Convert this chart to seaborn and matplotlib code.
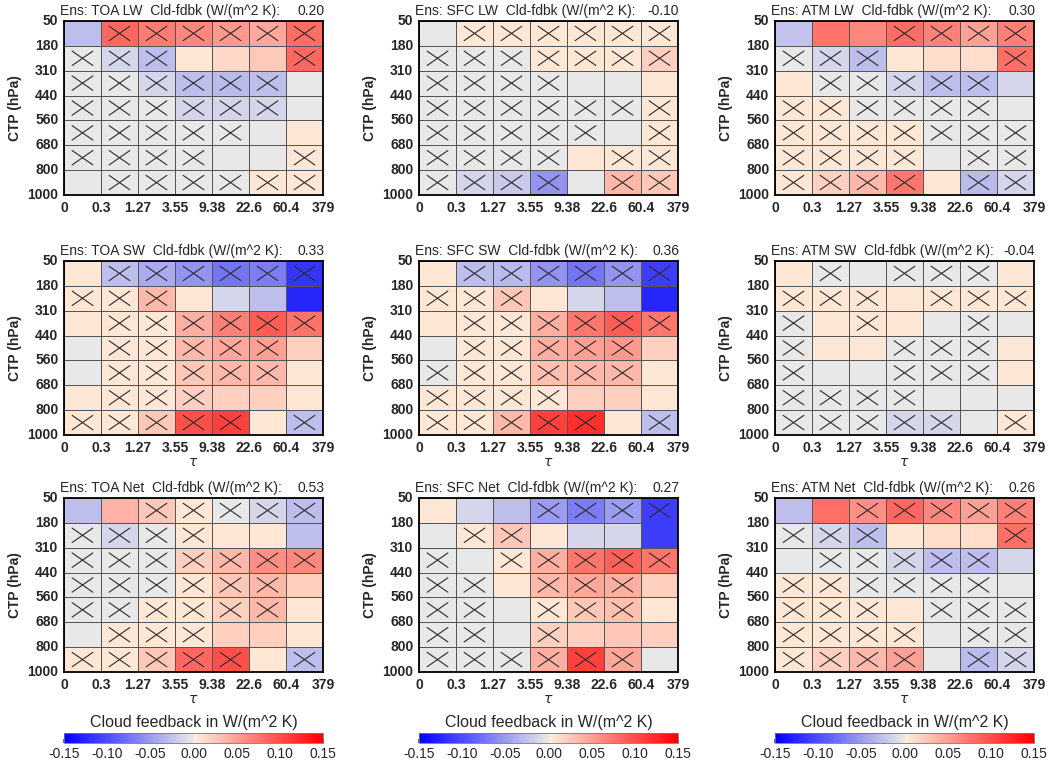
import numpy as np
import matplotlib
matplotlib.use("Agg")
import matplotlib.pyplot as plt
from matplotlib.colors import ListedColormap, Normalize
from matplotlib.cm import ScalarMappable
import seaborn as sns

# Bin edges for the ISCCP-style joint histogram
tau_edges = ["0", "0.3", "1.27", "3.55", "9.38", "22.6", "60.4", "379"]
ctp_edges = ["50", "180", "310", "440", "560", "680", "800", "1000"]

titles = ["TOA LW", "SFC LW", "ATM LW",
          "TOA SW", "SFC SW", "ATM SW",
          "TOA Net", "SFC Net", "ATM Net"]
totals = [0.20, -0.10, 0.30, 0.33, 0.36, -0.04, 0.53, 0.27, 0.26]

# Cloud feedback per bin, rows = CTP (top to bottom), cols = tau
toa_lw = [
    [-0.027, 0.085, 0.072, 0.065, 0.055, 0.045, 0.082],
    [-0.001, -0.012, -0.027, 0.005, 0.015, 0.024, 0.085],
    [-0.001, -0.001, -0.012, -0.028, -0.030, -0.028, -0.001],
    [-0.001, -0.001, -0.001, -0.013, -0.013, -0.013, -0.001],
    [-0.001, -0.001, -0.001, -0.001, -0.001, -0.001, 0.005],
    [-0.001, -0.001, -0.001, -0.001, -0.001, -0.001, 0.005],
    [-0.001, -0.001, -0.001, -0.001, -0.001, 0.005, 0.005],
]
sfc_lw = [
    [-0.001, 0.005, 0.005, 0.005, 0.005, 0.005, 0.005],
    [-0.001, -0.001, -0.001, 0.005, 0.005, 0.005, 0.020],
    [-0.001, -0.001, -0.001, -0.001, -0.001, -0.001, 0.005],
    [-0.001, -0.001, -0.001, -0.001, -0.001, -0.001, 0.005],
    [-0.001, -0.001, -0.001, -0.001, -0.001, -0.001, 0.005],
    [-0.001, -0.001, -0.001, -0.001, 0.005, 0.005, 0.005],
    [-0.001, -0.013, -0.020, -0.055, -0.001, 0.035, 0.025],
]
atm_lw = [
    [-0.025, 0.078, 0.065, 0.082, 0.068, 0.050, 0.070],
    [-0.001, -0.012, -0.027, 0.005, 0.012, 0.012, 0.080],
    [0.005, -0.001, -0.001, -0.012, -0.028, -0.028, -0.012],
    [0.005, 0.005, -0.001, -0.001, -0.001, -0.001, -0.001],
    [0.005, 0.005, 0.005, 0.005, -0.001, -0.001, -0.001],
    [0.005, 0.005, 0.005, 0.005, -0.001, -0.001, -0.001],
    [0.005, 0.020, 0.035, 0.075, 0.005, -0.030, -0.014],
]
toa_sw = [
    [0.005, -0.027, -0.040, -0.055, -0.075, -0.070, -0.115],
    [0.005, 0.005, 0.035, 0.005, -0.012, -0.027, -0.125],
    [0.005, 0.005, 0.005, 0.040, 0.070, 0.092, 0.078],
    [-0.001, 0.005, 0.005, 0.035, 0.045, 0.050, 0.020],
    [-0.001, 0.005, 0.005, 0.025, 0.035, 0.035, 0.005],
    [0.005, 0.005, 0.005, 0.020, 0.020, 0.020, 0.005],
    [0.005, 0.005, 0.025, 0.100, 0.110, 0.005, -0.027],
]
sfc_sw = [
    [0.005, -0.027, -0.030, -0.055, -0.075, -0.055, -0.110],
    [0.005, 0.005, 0.025, 0.005, -0.012, -0.027, -0.125],
    [0.005, 0.005, 0.005, 0.040, 0.075, 0.092, 0.075],
    [-0.001, 0.005, 0.005, 0.040, 0.050, 0.055, 0.020],
    [-0.001, 0.005, 0.005, 0.030, 0.035, 0.035, 0.005],
    [0.005, 0.005, 0.005, 0.005, 0.020, 0.020, 0.005],
    [0.005, 0.005, 0.035, 0.110, 0.120, 0.005, -0.027],
]
atm_sw = [
    [0.005, -0.001, -0.001, -0.001, -0.001, -0.001, 0.005],
    [0.005, 0.005, 0.005, 0.005, 0.005, 0.005, 0.005],
    [-0.001, 0.005, 0.005, 0.005, -0.001, -0.001, -0.001],
    [-0.001, 0.005, 0.005, -0.001, -0.001, -0.001, 0.005],
    [-0.001, -0.001, -0.001, -0.001, -0.001, -0.001, 0.005],
    [-0.001, -0.001, -0.001, -0.001, -0.001, -0.001, -0.001],
    [-0.001, -0.001, -0.001, -0.012, -0.012, -0.001, 0.005],
]
toa_net = [
    [-0.027, 0.038, 0.025, 0.005, -0.001, -0.012, -0.027],
    [-0.001, -0.012, -0.001, 0.005, 0.005, 0.005, -0.027],
    [-0.001, -0.001, -0.001, 0.020, 0.035, 0.060, 0.065],
    [-0.001, -0.001, -0.001, 0.005, 0.025, 0.035, 0.020],
    [-0.001, -0.001, 0.005, 0.005, 0.020, 0.035, 0.005],
    [-0.001, 0.005, 0.005, 0.005, 0.020, 0.020, 0.005],
    [0.005, 0.005, 0.025, 0.085, 0.100, 0.005, -0.027],
]
sfc_net = [
    [0.005, -0.012, -0.027, -0.050, -0.070, -0.050, -0.110],
    [-0.001, 0.005, 0.025, 0.005, -0.012, -0.012, -0.110],
    [-0.001, -0.001, 0.005, 0.040, 0.075, 0.090, 0.075],
    [-0.001, -0.001, 0.005, 0.035, 0.045, 0.040, 0.020],
    [-0.001, -0.001, -0.001, 0.005, 0.025, 0.030, 0.005],
    [-0.001, -0.001, -0.001, 0.020, 0.020, 0.025, 0.020],
    [-0.001, -0.001, -0.001, 0.040, 0.110, 0.045, -0.001],
]
atm_net = [
    [-0.027, 0.080, 0.060, 0.085, 0.065, 0.050, 0.070],
    [-0.001, -0.012, -0.027, 0.005, 0.012, 0.012, 0.080],
    [-0.001, -0.001, -0.001, -0.012, -0.028, -0.028, -0.012],
    [0.005, 0.005, -0.001, -0.001, -0.001, -0.001, -0.001],
    [0.005, 0.005, 0.005, 0.005, -0.001, -0.001, -0.001],
    [0.005, 0.005, 0.005, 0.005, -0.001, -0.001, -0.001],
    [0.005, 0.020, 0.035, 0.050, -0.001, -0.030, -0.014],
]

# 1 = bin crossed out (not robust across the ensemble)
toa_lw_x = [[0,1,1,1,1,1,1],[1,1,1,0,0,0,1],[1,1,1,1,1,1,0],[1,1,1,1,1,1,0],
            [1,1,1,1,1,0,0],[1,1,1,1,0,0,1],[0,1,1,1,1,1,1]]
sfc_lw_x = [[0,1,1,1,1,1,1],[1,1,1,1,1,1,1],[1,1,1,1,0,0,0],[1,1,1,1,1,1,1],
            [1,1,1,1,1,0,1],[1,1,1,1,0,1,1],[1,1,1,1,0,1,1]]
atm_lw_x = [[0,0,0,1,1,1,1],[1,1,1,0,0,0,1],[0,1,1,1,1,1,0],[1,1,1,1,1,1,0],
            [1,1,1,1,1,1,1],[1,1,1,1,0,1,1],[1,1,1,1,0,1,1]]
toa_sw_x = [[0,1,1,1,1,1,1],[1,1,1,0,0,0,0],[0,1,1,1,1,1,1],[0,1,1,1,1,1,0],
            [0,1,1,1,1,1,0],[0,1,1,1,0,0,0],[1,1,1,1,1,0,1]]
sfc_sw_x = [[0,1,1,1,1,1,1],[1,1,1,0,0,0,0],[0,1,1,1,1,1,1],[0,1,1,1,1,1,0],
            [1,1,1,1,1,1,0],[1,1,1,1,0,0,0],[1,1,1,1,1,0,1]]
atm_sw_x = [[0,1,0,1,1,1,0],[1,1,1,0,1,1,1],[1,0,1,0,0,1,0],[1,0,0,1,1,1,0],
            [1,0,0,1,1,1,0],[1,1,1,1,0,0,0],[1,1,1,1,1,0,1]]
toa_net_x = [[0,0,1,1,1,1,1],[1,1,1,1,0,0,0],[1,1,1,1,1,1,1],[1,1,1,1,1,1,0],
             [1,1,1,1,1,1,0],[0,1,1,1,0,0,0],[1,1,1,1,1,0,1]]
sfc_net_x = [[0,0,0,1,1,1,1],[0,1,1,0,0,0,0],[1,0,1,1,1,1,1],[1,1,0,1,1,1,0],
             [1,1,0,1,1,1,0],[1,1,0,1,0,0,0],[1,1,1,1,1,1,0]]
atm_net_x = [[0,0,1,1,1,1,1],[1,1,1,0,0,0,1],[0,1,1,1,1,1,0],[1,1,1,1,1,1,0],
             [1,1,1,0,1,1,1],[1,1,1,1,0,1,1],[1,1,1,1,0,1,1]]

fields = [toa_lw, sfc_lw, atm_lw, toa_sw, sfc_sw, atm_sw, toa_net, sfc_net, atm_net]
crosses = [toa_lw_x, sfc_lw_x, atm_lw_x, toa_sw_x, sfc_sw_x, atm_sw_x,
           toa_net_x, sfc_net_x, atm_net_x]

sns.set_theme(style="white")
plt.rcParams["font.family"] = ["Liberation Sans", "DejaVu Sans"]

# Diverging map: blue -> light gray below zero, pale peach -> red above zero
n = 128
t = np.linspace(0, 1, n)[:, None]
blue = np.array([0.0, 0.0, 1.0])
gray = np.array([0.91, 0.91, 0.91])
peach = np.array([1.0, 0.935, 0.865])
red = np.array([1.0, 0.0, 0.0])
neg = blue * (1 - t) + gray * t
pos = peach * (1 - t) + red * t
cmap = ListedColormap(np.vstack([neg, pos]))
vmin, vmax = -0.15, 0.15

W, H = 1048, 770
fig = plt.figure(figsize=(W / 100, H / 100), dpi=100)

col_left = [64, 419, 775]
row_top = [21, 261, 498]
pw, ph = 259, 174

for k, (field, xmask) in enumerate(zip(fields, crosses)):
    r, c = divmod(k, 3)
    ax = fig.add_axes([col_left[c] / W, 1 - (row_top[r] + ph) / H, pw / W, ph / H])
    sns.heatmap(np.array(field), ax=ax, cmap=cmap, vmin=vmin, vmax=vmax,
                cbar=False, linewidths=0.6, linecolor="#555555", square=False)
    for i, row in enumerate(xmask):
        for j, flag in enumerate(row):
            if flag:
                ax.plot([j + 0.22, j + 0.78], [i + 0.21, i + 0.79],
                        color="#2a2a2a", lw=0.8)
                ax.plot([j + 0.22, j + 0.78], [i + 0.79, i + 0.21],
                        color="#2a2a2a", lw=0.8)
    ax.set_xlim(0, 7)
    ax.set_ylim(7, 0)
    ax.set_xticks(np.arange(8))
    ax.set_xticklabels(tau_edges, rotation=0, fontsize=10, fontweight="bold")
    ax.set_yticks(np.arange(8))
    ax.set_yticklabels(ctp_edges, rotation=0, fontsize=10, fontweight="bold")
    ax.tick_params(length=0, pad=4)
    for s in ax.spines.values():
        s.set_visible(True)
        s.set_color("black")
        s.set_linewidth(1.3)
    ax.set_ylabel("CTP (hPa)", fontsize=10, fontweight="bold", labelpad=4)
    if r > 0:
        ax.set_xlabel(r"$\tau$", fontsize=10, labelpad=0)
    ax.text(-0.015, 1.02, "Ens: %s  Cld-fdbk (W/(m^2 K):" % titles[k],
            transform=ax.transAxes, ha="left", va="bottom", fontsize=10)
    ax.text(1.005, 1.02, "%.2f" % totals[k],
            transform=ax.transAxes, ha="right", va="bottom", fontsize=10)

sm = ScalarMappable(norm=Normalize(vmin, vmax), cmap=cmap)
for c in range(3):
    cax = fig.add_axes([col_left[c] / W, 1 - 743 / H, pw / W, 10 / H])
    cb = fig.colorbar(sm, cax=cax, orientation="horizontal")
    cb.set_ticks([-0.15, -0.10, -0.05, 0.0, 0.05, 0.10, 0.15])
    cb.set_ticklabels(["-0.15", "-0.10", "-0.05", "0.00", "0.05", "0.10", "0.15"])
    cb.ax.xaxis.set_minor_locator(matplotlib.ticker.MultipleLocator(0.025))
    cb.ax.tick_params(which="both", direction="in", length=3, labelsize=10,
                      color="#555555", pad=3)
    cb.outline.set_linewidth(0.6)
    cb.outline.set_edgecolor("#777777")
    cb.set_label("Cloud feedback in W/(m^2 K)", fontsize=11.5, labelpad=4)
    cb.ax.xaxis.set_label_position("top")

fig.savefig("out.png", dpi=100)
